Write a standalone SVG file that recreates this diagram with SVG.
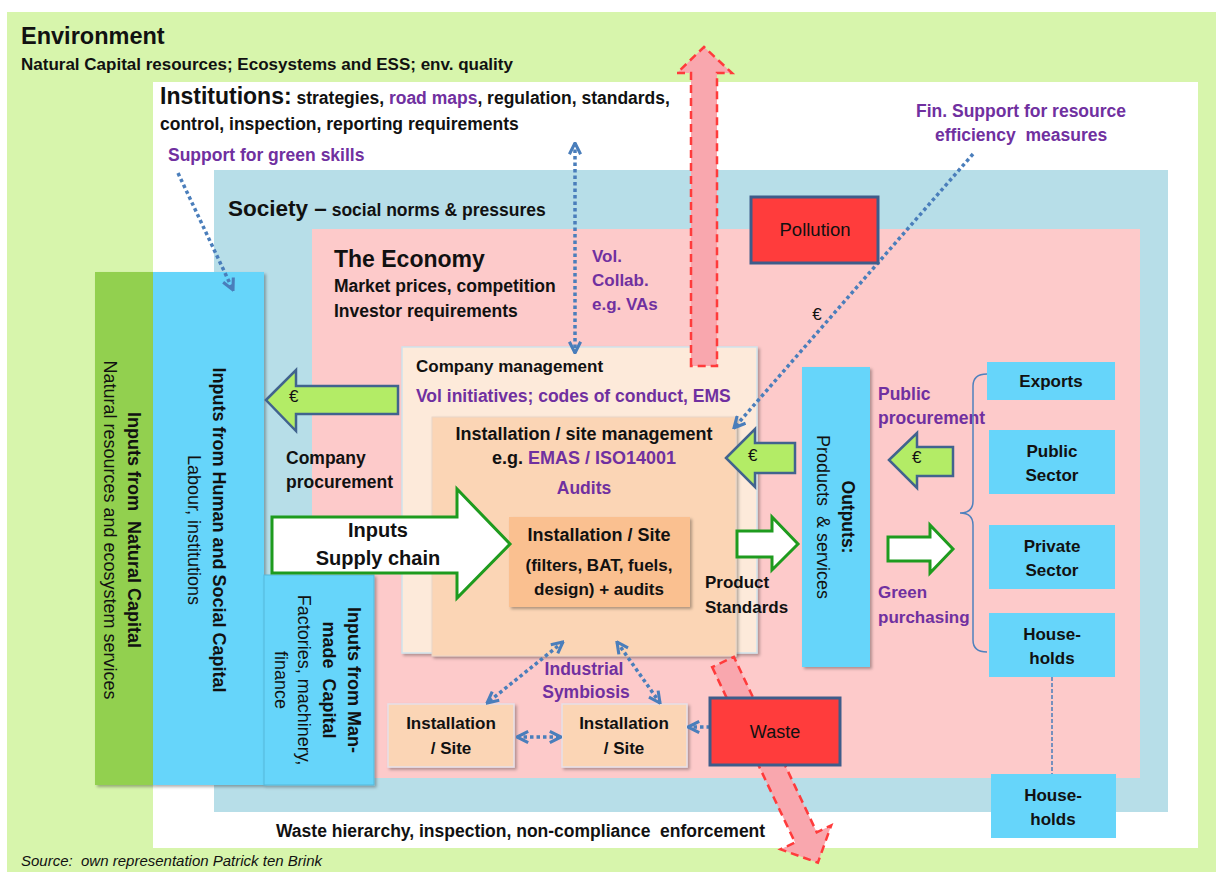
<svg xmlns="http://www.w3.org/2000/svg" width="1216" height="872" viewBox="0 0 1216 872">
<style>
text{font-family:"Liberation Sans",Arial,sans-serif;fill:#111;white-space:pre}
.b{font-weight:bold}
.t{font-size:23px;font-weight:bold}
.m{font-size:17.5px;font-weight:bold}
.bx{font-size:17px;font-weight:bold}
.r{font-size:18px}
.p{fill:#7030A0}
.c{text-anchor:middle}
.blue{fill:#66D5FA}
.dot{fill:none;stroke:#4A7EBB;stroke-width:3.5;stroke-dasharray:3.5 3}
.eur{fill:#B3EC66;stroke:#41638E;stroke-width:2.5;stroke-linejoin:miter}
.wa{fill:#fff;stroke:#1E9B1E;stroke-width:3}
.pk{fill:#F9A7AE;stroke:#FF3B3B;stroke-width:2.5;stroke-dasharray:8 5}
.red{fill:#FF3C3C;stroke:#3E5C8A;stroke-width:3}
</style>
<defs>
<filter id="sh" x="-10%" y="-10%" width="130%" height="130%">
<feDropShadow dx="2" dy="2" stdDeviation="1.5" flood-color="#000" flood-opacity="0.3"/>
</filter>
<marker id="chev" viewBox="0 0 10 10" refX="9" refY="5" markerUnits="userSpaceOnUse" markerWidth="14" markerHeight="14" orient="auto-start-reverse">
<path d="M1,1 L9,5 L1,9" fill="none" stroke="#4A7EBB" stroke-width="2.2"/>
</marker>
</defs>

<g id="environment">
<rect x="7" y="12" width="1209" height="860" fill="#D7F5AC"/>
<text x="21" y="44" class="b" style="font-size:23.5px">Environment</text>
<text x="21" y="70" class="m" style="font-size:17px">Natural Capital resources; Ecosystems and ESS; env. quality</text>
<text x="21" y="866" style="font-size:15px;font-style:italic">Source:  own representation Patrick ten Brink</text>
</g>

<g id="institutions">
<rect x="153" y="82" width="1045" height="766" fill="#fff"/>
<text x="160" y="104"><tspan class="t">Institutions:</tspan><tspan class="m"> strategies, </tspan><tspan class="m p">road maps</tspan><tspan class="m">, regulation, standards,</tspan></text>
<text x="160" y="130" class="m">control, inspection, reporting requirements</text>
<text x="168" y="161" class="m p">Support for green skills</text>
<text x="916" y="117" class="m p">Fin. Support for resource</text>
<text x="935" y="141" class="m p">efficiency  measures</text>
<text x="276" y="837" class="m">Waste hierarchy, inspection, non-compliance  enforcement</text>
</g>

<g id="society">
<rect x="214" y="170" width="954" height="642" fill="#B7DEE8"/>
<text x="228" y="216"><tspan class="t" style="font-size:22.5px">Society –</tspan><tspan class="m"> social norms &amp; pressures</tspan></text>
</g>

<g id="economy">
<rect x="312" y="229" width="828" height="549" fill="#FDCACA"/>
<text x="334" y="267" class="t">The Economy</text>
<text x="334" y="292" class="m">Market prices, competition</text>
<text x="334" y="317" class="m">Investor requirements</text>
<text x="592" y="262" class="m p" style="font-size:17px">Vol.</text>
<text x="592" y="286" class="m p" style="font-size:17px">Collab.</text>
<text x="592" y="310" class="m p" style="font-size:17px">e.g. VAs</text>
<text x="817" y="320" class="r c" style="font-size:17px">€</text>
</g>

<g id="natural-capital">
<rect x="95" y="272" width="58" height="513" fill="#92D050" filter="url(#sh)"/>
<text transform="translate(128,530) rotate(90)" class="c"><tspan x="0" y="0" class="b" style="font-size:18px">Inputs from  Natural Capital</tspan><tspan x="0" y="24" style="font-size:18px">Natural resources and ecosystem services</tspan></text>
</g>

<g id="human-social-capital">
<rect x="153" y="272" width="111" height="513" class="blue" filter="url(#sh)"/>
<text transform="translate(213,530) rotate(90)" class="c"><tspan x="0" y="0" class="b" style="font-size:18px">Inputs from Human and Social Capital</tspan><tspan x="0" y="25" style="font-size:18px">Labour, institutions</tspan></text>
</g>

<g id="man-made-capital">
<rect x="264" y="575" width="110" height="210" class="blue" stroke="#55B8DA" stroke-width="1" filter="url(#sh)"/>
<text transform="translate(348,680) rotate(90)" class="c"><tspan x="0" y="0" class="b" style="font-size:18px">Inputs from Man-</tspan><tspan x="0" y="25" class="b" style="font-size:18px">made  Capital</tspan><tspan x="0" y="50" style="font-size:18px">Factories, machinery,</tspan><tspan x="0" y="73" style="font-size:18px">finance</tspan></text>
</g>

<g id="company-management">
<rect x="402" y="347" width="355" height="306" fill="#FDEADA" stroke="#CFE3EC" stroke-width="1.5" filter="url(#sh)"/>
<text x="416" y="372" class="m" style="font-size:17px">Company management</text>
<text x="416" y="402" class="m p">Vol initiatives; codes of conduct, EMS</text>
</g>

<g id="site-management">
<rect x="432" y="417" width="304" height="239" fill="#FBD5B5" stroke="#EAD6C8" stroke-width="1" filter="url(#sh)"/>
<text x="584" y="440" class="m c" style="font-size:18px">Installation / site management</text>
<text x="584" y="464" class="m c" style="font-size:18px">e.g. <tspan class="p">EMAS / ISO14001</tspan></text>
<text x="584" y="494" class="m c p">Audits</text>
</g>

<g id="installation-site">
<rect x="509" y="517" width="181" height="90" fill="#FAC090" filter="url(#sh)"/>
<text x="599" y="541" class="m c" style="font-size:18px">Installation / Site</text>
<text x="599" y="571" class="m c" style="font-size:17px">(filters, BAT, fuels,</text>
<text x="599" y="595" class="m c" style="font-size:17px">design) + audits</text>
</g>

<g id="installation-1">
<rect x="388" y="704" width="126" height="63" fill="#FBD5B5" stroke="#E6E0E8" stroke-width="1.5" filter="url(#sh)"/>
<text x="451" y="729" class="bx c">Installation</text>
<text x="451" y="754" class="bx c">/ Site</text>
</g>

<g id="installation-2">
<rect x="562" y="704" width="125" height="63" fill="#FBD5B5" stroke="#E6E0E8" stroke-width="1.5" filter="url(#sh)"/>
<text x="624" y="729" class="bx c">Installation</text>
<text x="624" y="754" class="bx c">/ Site</text>
</g>

<g id="outputs">
<rect x="802" y="367" width="68" height="300" class="blue" filter="url(#sh)"/>
<text transform="translate(842,517) rotate(90)" class="c"><tspan x="0" y="0" class="b" style="font-size:17.5px">Outputs:</tspan><tspan x="0" y="25" style="font-size:18px">Products  &amp; services</tspan></text>
</g>

<g id="exports">
<rect x="987" y="362" width="128" height="38" class="blue"/>
<text x="1051" y="387" class="bx c">Exports</text>
</g>
<g id="public-sector">
<rect x="989" y="430" width="126" height="64" class="blue"/>
<text x="1052" y="457" class="bx c">Public</text>
<text x="1052" y="481" class="bx c">Sector</text>
</g>
<g id="private-sector">
<rect x="989" y="525" width="126" height="64" class="blue"/>
<text x="1052" y="552" class="bx c">Private</text>
<text x="1052" y="576" class="bx c">Sector</text>
</g>
<g id="households">
<rect x="989" y="613" width="126" height="64" class="blue"/>
<text x="1052" y="640" class="bx c">House-</text>
<text x="1052" y="664" class="bx c">holds</text>
</g>
<g id="households-outside">
<rect x="991" y="774" width="125" height="64" class="blue"/>
<text x="1053" y="801" class="bx c">House-</text>
<text x="1053" y="825" class="bx c">holds</text>
</g>

<g id="labels">
<text x="286" y="464" class="m">Company</text>
<text x="286" y="488" class="m">procurement</text>
<text x="705" y="588" class="m" style="font-size:17px">Product</text>
<text x="705" y="613" class="m" style="font-size:17px">Standards</text>
<text x="878" y="400" class="m p">Public</text>
<text x="878" y="424" class="m p">procurement</text>
<text x="878" y="598" class="m p" style="font-size:17px">Green</text>
<text x="878" y="623" class="m p" style="font-size:17px">purchasing</text>
<text x="584" y="675" class="m p c">Industrial</text>
<text x="586" y="698" class="m p c">Symbiosis</text>
</g>

<g id="connectors">
<path d="M691,366 L691,73 L677,73 L704,47 L732,73 L717,73 L717,366 Z" class="pk"/>
<path d="M-12,0 L-12,194 L-28,194 L0,222 L28,194 L12,194 L12,0 Z" class="pk" transform="translate(723,662) rotate(-25.3)"/>
<path d="M266,400 L296,370 L296,386 L398,386 L398,414 L296,414 L296,431 Z" class="eur"/>
<path d="M726,458 L755,429 L755,443 L795,443 L795,473 L755,473 L755,487 Z" class="eur"/>
<path d="M889,460 L917,433 L917,447 L953,447 L953,476 L917,476 L917,488 Z" class="eur"/>
<path d="M272,517 L457,517 L457,489 L510,544 L457,598 L457,573 L272,573 Z" class="wa"/>
<path d="M737,531 L772,531 L772,517 L798,544 L772,570 L772,557 L737,557 Z" class="wa"/>
<path d="M888,537 L930,537 L930,525 L953,549 L930,573 L930,561 L888,561 Z" class="wa"/>
<path d="M987,374 Q973,374 973,386 L973,501 Q973,513 960,513 Q973,513 973,525 L973,640 Q973,652 987,652" fill="none" stroke="#4F81BD" stroke-width="1.5"/>
<path d="M178,173 L233,290" class="dot" marker-end="url(#chev)"/>
<path d="M575,143 L575,353" class="dot" marker-start="url(#chev)" marker-end="url(#chev)"/>
<path d="M973,154 L734,428" class="dot" marker-end="url(#chev)"/>
<path d="M563,642 L487,703" class="dot" marker-start="url(#chev)" marker-end="url(#chev)"/>
<path d="M617,642 L660,703" class="dot" marker-start="url(#chev)" marker-end="url(#chev)"/>
<path d="M517,737 L561,737" class="dot" marker-start="url(#chev)" marker-end="url(#chev)"/>
<path d="M710,727 L688,727" class="dot" marker-end="url(#chev)"/>
<path d="M1052,677 L1052,774" fill="none" stroke="#4A7EBB" stroke-width="1.5" stroke-dasharray="4 2"/>
<text x="289" y="402" class="r" style="font-size:17px">€</text>
<text x="748" y="461" class="r" style="font-size:17px">€</text>
<text x="912" y="463" class="r" style="font-size:17px">€</text>
<text x="378" y="537" class="b c" style="font-size:20px">Inputs</text>
<text x="378" y="565" class="b c" style="font-size:20px">Supply chain</text>
</g>

<g id="pollution">
<rect x="751" y="197" width="127" height="66" class="red"/>
<text x="815" y="236" class="c" style="font-size:18.5px">Pollution</text>
</g>
<g id="waste">
<rect x="710" y="698" width="130" height="67" class="red"/>
<text x="775" y="738" class="c" style="font-size:18px">Waste</text>
</g>
</svg>
